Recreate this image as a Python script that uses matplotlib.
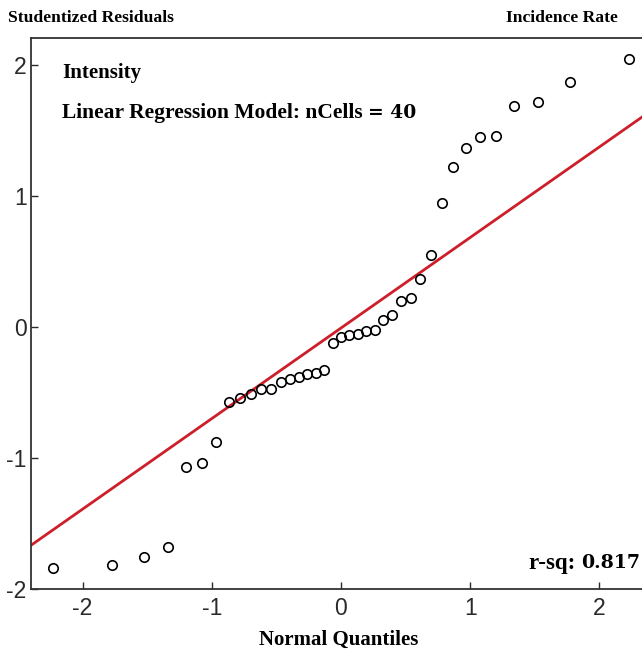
import numpy as np
import matplotlib.pyplot as plt

plt.rcParams['axes.unicode_minus'] = False

# normal quantiles (x) and studentized residuals (y)
quantiles = [-2.232, -1.769, -1.522, -1.342, -1.198, -1.076, -0.967, -0.869, -0.779, -0.695,
             -0.615, -0.539, -0.467, -0.396, -0.327, -0.260, -0.194, -0.129, -0.064, 0.0,
             0.064, 0.129, 0.194, 0.260, 0.327, 0.396, 0.467, 0.539, 0.615, 0.695,
             0.779, 0.869, 0.967, 1.076, 1.198, 1.342, 1.522, 1.769, 2.232]
residuals = [-1.84, -1.82, -1.76, -1.68, -1.07, -1.04, -0.88, -0.57, -0.54, -0.51,
             -0.47, -0.47, -0.42, -0.40, -0.38, -0.36, -0.35, -0.33, -0.12, -0.08,
             -0.06, -0.05, -0.03, -0.02, 0.05, 0.09, 0.20, 0.22, 0.37, 0.55,
             0.95, 1.22, 1.37, 1.45, 1.46, 1.69, 1.72, 1.87, 2.05]

# reference line
slope = 0.692
intercept = -0.008
rsq = 0.817
ncells = 40

xticks = [-2, -1, 0, 1, 2]
yticks = [-2, -1, 0, 1, 2]

serif = ['Liberation Serif', 'DejaVu Serif']
digits = ['DejaVu Serif']
sans = ['Liberation Sans', 'DejaVu Sans']

fig = plt.figure(figsize=(6.42, 6.52), dpi=100)
ax = fig.add_axes([0.048, 0.097, 0.952, 0.845])

xmin, xmax = -2.40, 2.33
ax.set_xlim(xmin, xmax)
ax.set_ylim(-2, 2.21)

xl = np.array([xmin, xmax])
ax.plot(xl, slope * xl + intercept, color='#cc1f2a', lw=2.0, zorder=2)
ax.plot(quantiles, residuals, 'o', mfc='none', mec='black', ms=6.8, mew=1.2, zorder=3)

ax.set_xticks(xticks)
ax.set_yticks(yticks)
ax.tick_params(direction='in', length=5, width=1, labelsize=16.5, colors='#2a2a2a')
for lab in ax.get_xticklabels() + ax.get_yticklabels():
    lab.set_family(sans)
ax.tick_params(axis='x', pad=6)
ax.tick_params(axis='y', pad=3)
ax.spines['right'].set_visible(False)
for s in ['left', 'top', 'bottom']:
    ax.spines[s].set_linewidth(1.3)
    ax.spines[s].set_color('#333333')

fig.canvas.draw()
renderer = fig.canvas.get_renderer()


def pieces(x, y, parts, ha='left'):
    # draw text pieces one after the other (pixel coords), each with its own font and size
    widths = []
    objs = []
    for txt, fam, size in parts:
        t = fig.text(0, 0, txt, family=fam, fontweight='bold', fontsize=size, va='center')
        widths.append(t.get_window_extent(renderer).width)
        objs.append(t)
    total = sum(widths)
    cur = x - total if ha == 'right' else x
    for t, w in zip(objs, widths):
        t.set_position((cur / 642, 1 - y / 652))
        cur += w


pieces(62, 73, [('Intensity', serif, 15)])
pieces(62, 113, [('Linear Regression Model: nCells ', serif, 15.5), ('= %d' % ncells, digits, 13.5)])
pieces(640, 563, [('r-sq: ', serif, 16.5), ('%.3f' % rsq, digits, 13.6)], ha='right')

fig.text(8 / 642, 1 - 18 / 652, 'Studentized Residuals', family=serif, fontweight='bold',
         fontsize=12.6, va='center', ha='left')
fig.text(618 / 642, 1 - 18 / 652, 'Incidence Rate', family=serif, fontweight='bold',
         fontsize=12.6, va='center', ha='right')
fig.text(339 / 642, 1 - 640 / 652, 'Normal Quantiles', family=serif, fontweight='bold',
         fontsize=15, va='center', ha='center')

fig.savefig('out.png', dpi=100)
